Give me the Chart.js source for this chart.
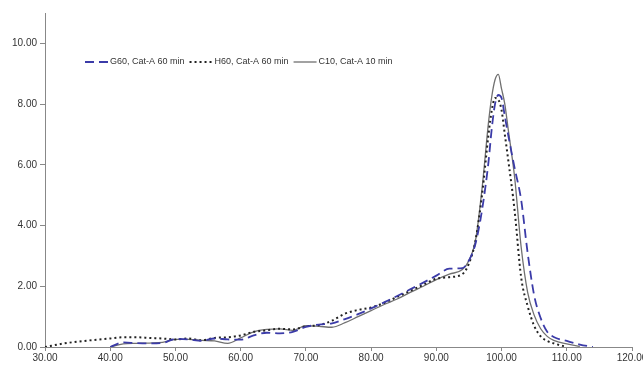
<!DOCTYPE html>
<html>
<head>
<meta charset="utf-8">
<script src="https://cdn.jsdelivr.net/npm/chart.js@4.4.1/dist/chart.umd.min.js"></script>
<style>
  html, body { margin: 0; padding: 0; background: #fff; }
  #wrap { width: 643px; height: 368px; }
</style>
</head>
<body>
<div id="wrap"><canvas id="myChart"></canvas></div>
<script>
// DATOS
const xs = [30, 33, 36, 40, 42, 44, 46, 48, 50, 52, 54, 56, 58, 60, 62, 64, 66, 68, 70, 72, 74, 76, 78, 80, 82, 84, 86, 88, 90, 92, 94, 95, 96, 97, 98, 98.5, 99, 99.5, 100, 100.5, 101, 102, 103, 104, 105, 106, 107, 108, 110, 112, 114];
const g60 = [null, null, null, 0, 0.15, 0.13, 0.12, 0.13, 0.27, 0.25, 0.2, 0.28, 0.25, 0.24, 0.38, 0.47, 0.45, 0.5, 0.66, 0.74, 0.78, 0.92, 1.08, 1.27, 1.47, 1.68, 1.9, 2.12, 2.35, 2.58, 2.6, 2.85, 3.4, 4.5, 6.1, 7.2, 8.0, 8.3, 8.2, 7.6, 7.0, 5.9, 4.85, 3.1, 1.7, 0.95, 0.5, 0.33, 0.2, 0.08, 0];
const h60 = [0, 0.12, 0.2, 0.28, 0.32, 0.32, 0.3, 0.28, 0.25, 0.28, 0.22, 0.3, 0.32, 0.38, 0.5, 0.55, 0.6, 0.58, 0.68, 0.72, 0.87, 1.1, 1.22, 1.3, 1.45, 1.65, 1.85, 2.05, 2.25, 2.3, 2.4, 2.75, 3.5, 5.0, 7.0, 7.8, 8.2, 8.15, 7.8, 7.0, 6.2, 4.5, 2.3, 1.35, 0.7, 0.35, 0.2, 0.12, 0, null, null];
const c10 = [null, null, null, 0, 0.1, 0.12, 0.13, 0.15, 0.25, 0.25, 0.22, 0.2, 0.12, 0.3, 0.5, 0.58, 0.6, 0.55, 0.7, 0.68, 0.65, 0.8, 1.0, 1.2, 1.4, 1.58, 1.8, 2.0, 2.22, 2.4, 2.55, 2.85, 3.5, 5.2, 7.4, 8.25, 8.8, 8.98, 8.5, 8.0, 7.2, 5.6, 3.3, 1.8, 1.05, 0.6, 0.35, 0.22, 0.1, 0.02, null];
const labels = ["G60, Cat-A 60 min", "H60, Cat-A 60 min", "C10, Cat-A 10 min"];
const yTicks = [0, 2, 4, 6, 8, 10];

function toPoints(ys) {
  return xs.map((x, i) => ({ x: x, y: ys[i] }));
}

// leyenda dentro del area del grafico
const legendInside = {
  id: "legendInside",
  afterDatasetsDraw(chart) {
    const ctx = chart.ctx;
    let x = 85;
    const y = 62;
    ctx.save();
    ctx.font = "9px 'Liberation Sans', Arial, sans-serif";
    ctx.textBaseline = "middle";
    chart.data.datasets.forEach((ds) => {
      ctx.beginPath();
      ctx.setLineDash(ds.borderDash || []);
      ctx.strokeStyle = ds.borderColor;
      ctx.lineWidth = ds.borderWidth;
      ctx.moveTo(x, y);
      ctx.lineTo(x + 23, y);
      ctx.stroke();
      ctx.setLineDash([]);
      x += 25;
      ctx.fillStyle = "#333";
      ctx.fillText(ds.label, x, y);
      x += ctx.measureText(ds.label).width + 5;
    });
    ctx.restore();
  },
};

const cChart = document.getElementById("myChart");
new Chart(cChart, {
  type: "line",
  data: {
    datasets: [
      {
        label: labels[0],
        data: toPoints(g60),
        borderColor: "#3b3ba8",
        borderWidth: 1.8,
        borderDash: [9, 5],
      },
      {
        label: labels[1],
        data: toPoints(h60),
        borderColor: "#222",
        borderWidth: 2,
        borderDash: [2, 3],
      },
      {
        label: labels[2],
        data: toPoints(c10),
        borderColor: "#707070",
        borderWidth: 1.3,
      },
    ],
  },
  options: {
    responsive: true,
    maintainAspectRatio: false,
    animation: false,
    spanGaps: false,
    elements: {
      point: { radius: 0 },
      line: { cubicInterpolationMode: "monotone", fill: false },
    },
    layout: {
      padding: { left: 0, top: 13, right: 11, bottom: 0 },
    },
    plugins: {
      legend: { display: false },
      tooltip: { enabled: false },
    },
    scales: {
      x: {
        type: "linear",
        min: 30,
        max: 120,
        ticks: {
          stepSize: 10,
          padding: 1,
          maxRotation: 0,
          color: "#333",
          font: { family: "'Liberation Sans', Arial, sans-serif", size: 10 },
          callback: (v) => Number(v).toFixed(2),
        },
        grid: { drawOnChartArea: false, drawTicks: true, tickLength: 4, color: "#888" },
        border: { color: "#888", width: 1 },
        afterFit: (scale) => {
          scale.height = 21;
          scale.paddingLeft = 0;
          scale.paddingRight = 0;
        },
      },
      y: {
        min: 0,
        max: 11,
        ticks: {
          padding: 3,
          color: "#333",
          font: { family: "'Liberation Sans', Arial, sans-serif", size: 10 },
          callback: (v) => Number(v).toFixed(2),
        },
        afterBuildTicks: (scale) => {
          scale.ticks = yTicks.map((v) => ({ value: v }));
        },
        grid: { drawOnChartArea: false, drawTicks: true, tickLength: 5, color: "#888" },
        border: { color: "#888", width: 1 },
        afterFit: (scale) => {
          scale.width = 45;
          scale.paddingTop = 0;
          scale.paddingBottom = 0;
        },
      },
    },
  },
  plugins: [legendInside],
});
</script>
</body>
</html>
